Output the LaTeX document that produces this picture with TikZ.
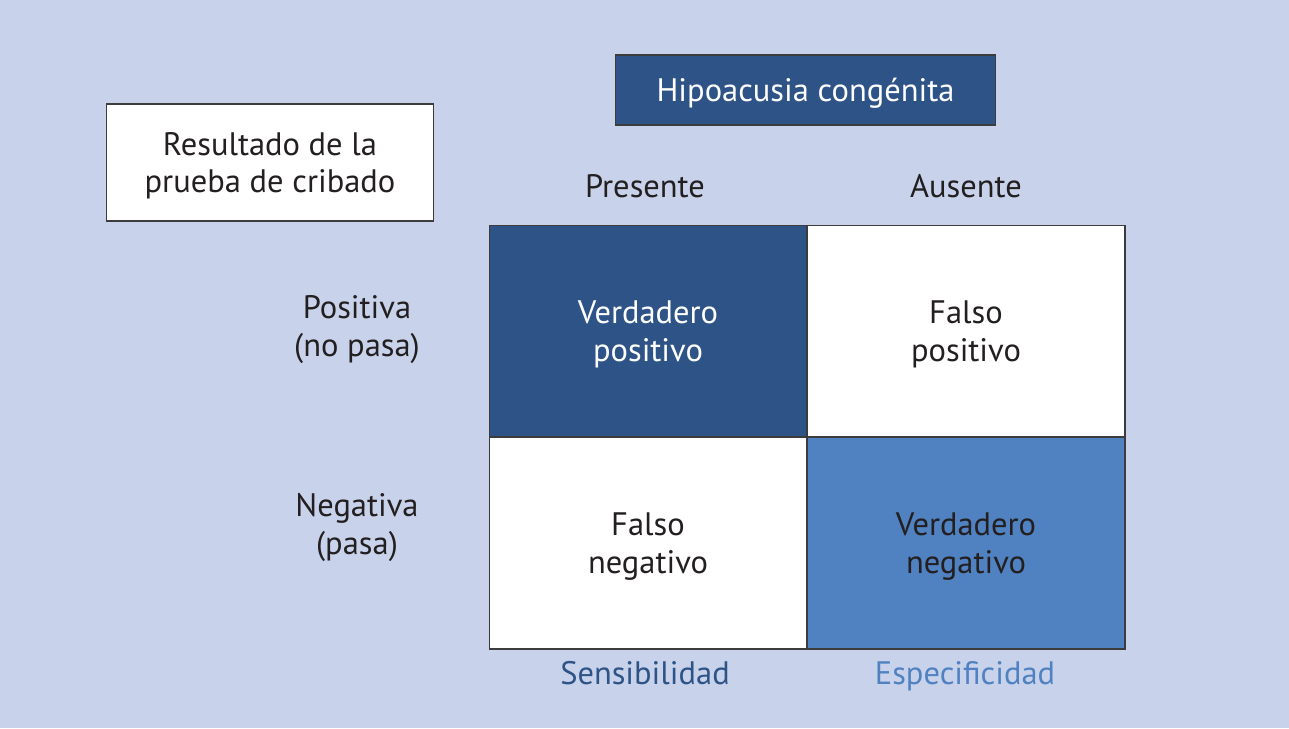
\documentclass[tikz,border=0pt]{standalone}
\usepackage{fontspec}
\setmainfont{PT Sans}
\usetikzlibrary{positioning}
\definecolor{bgblue}{RGB}{200,211,235}
\definecolor{darkblue}{RGB}{46,83,135}
\definecolor{midblue}{RGB}{80,130,193}
\definecolor{txt}{RGB}{35,31,32}
\definecolor{frame}{RGB}{60,60,60}

\begin{document}
\begin{tikzpicture}[x=0.02cm, y=-0.02cm,
    every node/.style={font=\fontsize{18.5}{21.6}\selectfont, text=txt, align=center, text depth=0pt},
    cell/.style={draw=frame, line width=0.6pt, minimum width=6.36cm, minimum height=4.24cm, inner sep=0pt},
    box/.style={draw=frame, line width=0.6pt, inner sep=0pt}]
    % Background
    \fill[bgblue] (0,0) rectangle (1289,728);

    % Headers
    \node[box, fill=darkblue, text=white, minimum width=7.62cm, minimum height=1.4cm] (hipo) at (805.5, 90) {Hipoacusia congénita};
    \node[box, fill=white, minimum width=6.56cm, minimum height=2.34cm] (result) at (270, 162.5) {Resultado de la\\prueba de cribado};

    \node (pres) at (645, 186) {Presente};
    \node (aus) at (966, 186) {Ausente};

    % Matrix
    \node[cell, fill=darkblue, text=white] (vp) at (648, 331) {Verdadero\\positivo};
    \node[cell, fill=white] (fp) at (966, 331) {Falso\\positivo};
    \node[cell, fill=white] (fn) at (648, 543) {Falso\\negativo};
    \node[cell, fill=midblue] (vn) at (966, 543) {Verdadero\\negativo};

    % Row labels
    \node (pos) at (357, 326) {Positiva\\(no pasa)};
    \node (neg) at (357, 524) {Negativa\\(pasa)};

    % Column labels
    \node[text=darkblue] (sens) at (645, 673) {Sensibilidad};
    \node[text=midblue] (espec) at (965, 673) {Especificidad};
\end{tikzpicture}
\end{document}
